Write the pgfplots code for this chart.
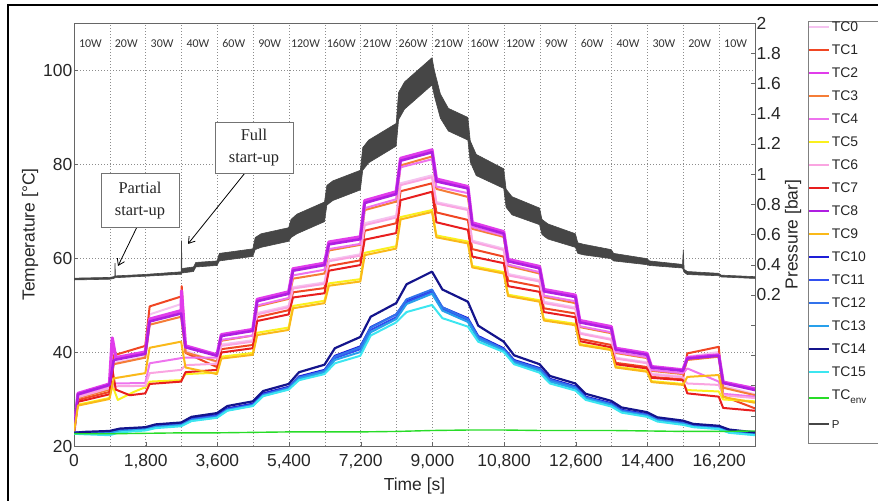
\documentclass[border=0pt]{standalone}
\usepackage{fontspec}
\setmainfont{Liberation Sans}
\newfontfamily\carlito{Carlito}
\newfontfamily\annoserif{Liberation Serif}
\usepackage{pgfplots}
\pgfplotsset{compat=1.18}
\usetikzlibrary{arrows.meta}
\definecolor{c0}{RGB}{245,195,240}
\definecolor{c1}{RGB}{240,70,35}
\definecolor{c2}{RGB}{225,60,235}
\definecolor{c3}{RGB}{245,125,55}
\definecolor{c4}{RGB}{238,115,238}
\definecolor{c5}{RGB}{250,240,30}
\definecolor{c6}{RGB}{250,165,225}
\definecolor{c7}{RGB}{232,30,30}
\definecolor{c8}{RGB}{175,30,225}
\definecolor{c9}{RGB}{250,185,25}
\definecolor{c10}{RGB}{30,30,215}
\definecolor{c11}{RGB}{50,80,240}
\definecolor{c12}{RGB}{50,115,235}
\definecolor{c13}{RGB}{40,160,235}
\definecolor{c14}{RGB}{20,20,140}
\definecolor{c15}{RGB}{60,230,240}
\definecolor{cenv}{RGB}{40,220,40}
\definecolor{cp}{RGB}{70,70,70}
\begin{document}
\begin{tikzpicture}
\useasboundingbox (0,0) rectangle (878bp,501bp);
\draw[black, line width=2bp] (8bp,-5bp) -- (8bp,496bp) -- (890bp,496bp);
\draw[black!50, line width=0.8bp] (808bp,58bp) rectangle (895bp,480bp);
\begin{axis}[
  at={(74bp,55bp)}, anchor=south west, scale only axis,
  width=681bp, height=423bp,
  xmin=0, xmax=17100, ymin=20, ymax=110,
  scaled x ticks=false, scaled y ticks=false,
  axis line style={black!60, line width=0.8bp},
  xtick={0,1800,3600,5400,7200,9000,10800,12600,14400,16200},
  xticklabels={0,{1,800},{3,600},{5,400},{7,200},{9,000},{10,800},{12,600},{14,400},{16,200}},
  minor xtick={900,2700,4500,6300,8100,9900,11700,13500,15300},
  ytick={20,40,60,80,100},
  xtick pos=bottom, ytick pos=left,
  tick align=inside, major tick length=4bp, minor tick length=0bp,
  tick style={black!60},
  xmajorgrids, xminorgrids, ymajorgrids,
  grid style={black!45, line width=0.6bp, dash pattern=on 1bp off 2bp},
  minor grid style={black!45, line width=0.6bp, dash pattern=on 1bp off 2bp},
  /pgf/number format/assume math mode=true,
  tick label style={font=\fontsize{17.5}{17.5}\selectfont, text=black!85},
  yticklabel style={inner xsep=1.5bp, inner ysep=0bp},
  xticklabel style={inner ysep=0.5bp, yshift=-8bp},
  xlabel={Time [s]}, ylabel={Temperature [°C]},
  label style={font=\fontsize{17.5}{17.5}\selectfont, text=black!85},
  xlabel style={at={(axis description cs:0.5,-0.094)}, anchor=center},
  ylabel style={at={(axis description cs:-0.0646,0.5)}, anchor=center},
  legend style={at={(axis description cs:1.0778,1.0118)}, anchor=north west,
    draw=none, fill=none, inner xsep=0bp, inner ysep=3bp,
    font=\fontsize{14}{14}\selectfont, text=black!85,
    row sep=12bp, column sep=0bp,
    nodes={text height=10bp, text depth=0bp, inner ysep=0.5bp, inner xsep=2bp}},
  legend cell align=left,
  legend image code/.code={\draw[#1] (0bp,0bp) -- (20bp,0bp);},
  legend image post style={line width=1.6bp},
  every axis plot/.append style={line width=2bp, line join=round},
]
\addplot[c0] coordinates {(0,23)(100,30.6)(890,32.5)(1000,37.7)(1790,39.0)(1900,48.0)(2690,50.2)(2800,40.3)(3590,37.8)(3700,41.6)(4490,42.5)(4600,48.3)(5390,49.8)(5500,53.8)(6290,54.8)(6400,59.6)(7190,60.8)(7300,67.4)(8090,69.0)(8200,75.9)(8990,77.6)(9100,71.9)(9890,70.5)(10000,63.7)(10790,62.0)(10900,56.6)(11690,55.3)(11800,50.7)(12590,49.5)(12700,44.1)(13490,42.8)(13600,38.8)(14390,37.8)(14500,35.4)(15290,34.8)(15400,39.0)(16190,40.0)(16300,32.8)(17100,31.0)};
\addlegendentry{TC0}
\addplot[c1] coordinates {(0,23)(100,29.8)(890,31.5)(1000,39.3)(1790,41.3)(1900,49.7)(2690,51.8)(2705,54.0)(2800,39.8)(3590,36.8)(3700,40.6)(4490,41.5)(4600,47.4)(5390,48.9)(5500,52.7)(6290,53.6)(6400,58.3)(7190,59.5)(7300,65.8)(8090,67.4)(8200,74.2)(8990,75.9)(9100,69.7)(9890,68.1)(10000,61.9)(10790,60.3)(10900,55.2)(11690,53.9)(11800,49.3)(12590,48.2)(12700,42.8)(13490,41.5)(13600,37.7)(14390,36.8)(14500,34.7)(15290,34.2)(15400,39.7)(16190,41.1)(16300,30.6)(17100,28.0)};
\addlegendentry{TC1}
\addplot[c2, line width=3.2bp] coordinates {(0,23)(100,31.2)(890,33.2)(960,43.0)(1050,38.8)(1790,40.0)(1900,47.0)(2690,48.8)(2700,53.0)(2800,41.3)(3590,39.4)(3700,43.7)(4490,44.8)(4600,51.2)(5390,52.8)(5500,57.7)(6290,58.9)(6400,63.4)(7190,64.5)(7300,72.2)(8090,74.1)(8200,81.2)(8990,83.0)(9100,76.8)(9890,75.2)(10000,67.5)(10790,65.6)(10900,59.7)(11690,58.2)(11800,53.3)(12590,52.1)(12700,46.7)(13490,45.4)(13600,40.8)(14390,39.7)(14500,36.9)(15290,36.2)(15400,38.8)(16190,39.4)(16300,33.6)(17100,32.2)};
\addlegendentry{TC2}
\addplot[c3] coordinates {(0,23)(100,30.2)(890,32.0)(1000,37.4)(1790,38.8)(1900,45.8)(2690,47.5)(2800,39.9)(3590,38.0)(3700,42.4)(4490,43.5)(4600,49.7)(5390,51.3)(5500,55.6)(6290,56.7)(6400,61.6)(7190,62.8)(7300,70.2)(8090,72.0)(8200,79.7)(8990,81.6)(9100,74.7)(9890,73.0)(10000,66.2)(10790,64.5)(10900,58.3)(11690,56.7)(11800,51.7)(12590,50.4)(12700,45.3)(13490,44.0)(13600,39.8)(14390,38.7)(14500,36.0)(15290,35.3)(15400,38.3)(16190,39.0)(16300,32.4)(17100,30.8)};
\addlegendentry{TC3}
\addplot[c4] coordinates {(0,23)(100,30.8)(890,32.8)(1000,33.3)(1790,33.4)(1900,37.6)(2690,38.7)(2800,38.8)(3590,38.8)(3700,42.6)(4490,43.5)(4600,49.9)(5390,51.5)(5500,56.3)(6290,57.5)(6400,61.9)(7190,63.0)(7300,70.6)(8090,72.5)(8200,79.3)(8990,81.0)(9100,75.2)(9890,73.8)(10000,66.6)(10790,64.8)(10900,58.6)(11690,57.0)(11800,52.0)(12590,50.8)(12700,45.5)(13490,44.2)(13600,40.0)(14390,38.9)(14500,36.2)(15290,35.5)(15400,36.5)(16190,33.7)(16300,31.1)(17100,30.5)};
\addlegendentry{TC4}
\addplot[c5] coordinates {(0,23)(100,28.8)(890,30.2)(960,33.0)(1100,29.8)(1500,31.5)(1790,32.5)(1900,33.7)(2690,34.0)(2800,35.3)(3590,35.6)(3700,39.0)(4490,39.8)(4600,44.1)(5390,45.2)(5500,49.8)(6290,50.9)(6400,54.6)(7190,55.5)(7300,61.1)(8090,62.5)(8200,68.7)(8990,70.2)(9100,64.8)(9890,63.5)(10000,58.3)(10790,57.0)(10900,52.2)(11690,51.0)(11800,47.0)(12590,46.0)(12700,41.7)(13490,40.6)(13600,36.9)(14390,36.0)(14500,33.8)(15290,33.2)(15400,31.9)(16190,31.6)(16300,29.9)(17100,29.5)};
\addlegendentry{TC5}
\addplot[c6] coordinates {(0,23)(100,30.4)(890,32.3)(1000,32.7)(1790,32.8)(1900,35.5)(2690,36.2)(2800,37.2)(3590,37.5)(3700,41.3)(4490,42.2)(4600,48.0)(5390,49.5)(5500,53.5)(6290,54.5)(6400,59.3)(7190,60.5)(7300,67.0)(8090,68.6)(8200,75.5)(8990,77.2)(9100,71.6)(9890,70.2)(10000,63.4)(10790,61.7)(10900,56.3)(11690,55.0)(11800,50.4)(12590,49.2)(12700,43.9)(13490,42.6)(13600,38.6)(14390,37.6)(14500,35.2)(15290,34.6)(15400,33.3)(16190,33.0)(16300,30.8)(17100,30.2)};
\addlegendentry{TC6}
\addplot[c7] coordinates {(0,23)(100,29.4)(890,31.0)(960,36.5)(1050,32.0)(1400,30.8)(1790,31.2)(1900,33.2)(2690,33.7)(2800,35.7)(3590,36.2)(3700,39.9)(4490,40.8)(4600,46.6)(5390,48.0)(5500,51.6)(6290,52.5)(6400,57.3)(7190,58.5)(7300,63.9)(8090,65.3)(8200,72.3)(8990,74.1)(9100,67.6)(9890,66.0)(10000,60.3)(10790,58.9)(10900,54.0)(11690,52.8)(11800,48.5)(12590,47.4)(12700,42.3)(13490,41.0)(13600,37.4)(14390,36.5)(14500,34.5)(15290,34.0)(15400,31.2)(16190,30.5)(16300,28.1)(17100,27.5)};
\addlegendentry{TC7}
\addplot[c8, line width=2.6bp] coordinates {(0,23)(100,31.0)(890,33.0)(1000,38.3)(1790,39.6)(1900,46.5)(2690,48.2)(2800,41.0)(3590,39.2)(3700,43.4)(4490,44.5)(4600,50.8)(5390,52.4)(5500,57.3)(6290,58.5)(6400,62.9)(7190,64.0)(7300,71.7)(8090,73.6)(8200,80.7)(8990,82.5)(9100,76.3)(9890,74.8)(10000,67.1)(10790,65.2)(10900,59.3)(11690,57.8)(11800,52.9)(12590,51.7)(12700,46.3)(13490,45.0)(13600,40.5)(14390,39.4)(14500,36.7)(15290,36.0)(15400,38.6)(16190,39.2)(16300,33.4)(17100,31.9)};
\addlegendentry{TC8}
\addplot[c9] coordinates {(0,23)(100,28.6)(890,30.0)(1000,34.4)(1790,35.5)(1900,40.9)(2690,42.2)(2800,36.7)(3590,35.3)(3700,38.6)(4490,39.4)(4600,43.6)(5390,44.7)(5500,49.3)(6290,50.4)(6400,54.1)(7190,55.0)(7300,60.6)(8090,62.0)(8200,68.2)(8990,69.8)(9100,64.4)(9890,63.1)(10000,58.0)(10790,56.7)(10900,51.9)(11690,50.7)(11800,46.7)(12590,45.7)(12700,41.5)(13490,40.4)(13600,36.7)(14390,35.8)(14500,33.6)(15290,33.0)(15400,34.7)(16190,35.1)(16300,30.4)(17100,29.2)};
\addlegendentry{TC9}
\addplot[c10] coordinates {(0,22.8)(250,22.9)(890,23.0)(1150,23.5)(1790,23.8)(2050,24.4)(2690,24.8)(2950,25.9)(3590,26.6)(3850,28.0)(4490,29.0)(4750,31.2)(5390,32.6)(5650,34.8)(6290,36.2)(6550,39.2)(7190,41.2)(7450,45.3)(8090,48.0)(8350,51.0)(8990,53.0)(9250,49.5)(9890,47.2)(10150,43.4)(10790,40.8)(11050,38.3)(11690,36.6)(11950,34.3)(12590,32.7)(12850,30.5)(13490,29.1)(13750,27.7)(14390,26.8)(14650,25.7)(15290,25.0)(15550,24.4)(16190,24.0)(16450,23.2)(17100,22.7)};
\addlegendentry{TC10}
\addplot[c11] coordinates {(0,22.8)(250,22.9)(890,22.9)(1150,23.4)(1790,23.7)(2050,24.2)(2690,24.6)(2950,25.7)(3590,26.4)(3850,27.8)(4490,28.8)(4750,30.9)(5390,32.3)(5650,34.5)(6290,35.9)(6550,38.7)(7190,40.6)(7450,44.7)(8090,47.4)(8350,50.6)(8990,52.8)(9250,49.2)(9890,46.8)(10150,43.0)(10790,40.5)(11050,38.0)(11690,36.3)(11950,34.0)(12590,32.5)(12850,30.3)(13490,28.9)(13750,27.5)(14390,26.6)(14650,25.6)(15290,24.9)(15550,24.3)(16190,23.9)(16450,23.1)(17100,22.6)};
\addlegendentry{TC11}
\addplot[c12] coordinates {(0,22.8)(250,22.9)(890,22.9)(1150,23.3)(1790,23.6)(2050,24.1)(2690,24.5)(2950,25.6)(3590,26.3)(3850,27.7)(4490,28.7)(4750,30.9)(5390,32.4)(5650,34.6)(6290,36.0)(6550,39.0)(7190,41.0)(7450,45.2)(8090,48.0)(8350,51.2)(8990,53.3)(9250,49.5)(9890,47.0)(10150,43.2)(10790,40.6)(11050,38.1)(11690,36.4)(11950,34.1)(12590,32.5)(12850,30.3)(13490,28.9)(13750,27.5)(14390,26.6)(14650,25.6)(15290,24.9)(15550,24.2)(16190,23.8)(16450,23.0)(17100,22.5)};
\addlegendentry{TC12}
\addplot[c13] coordinates {(0,22.8)(250,22.7)(890,22.7)(1150,23.2)(1790,23.5)(2050,24.0)(2690,24.4)(2950,25.4)(3590,26.1)(3850,27.6)(4490,28.6)(4750,30.7)(5390,32.1)(5650,34.3)(6290,35.7)(6550,38.3)(7190,40.0)(7450,44.2)(8090,47.0)(8350,50.2)(8990,52.4)(9250,48.8)(9890,46.4)(10150,42.7)(10790,40.3)(11050,37.7)(11690,36.0)(11950,33.7)(12590,32.2)(12850,30.1)(13490,28.7)(13750,27.3)(14390,26.4)(14650,25.4)(15290,24.7)(15550,24.1)(16190,23.7)(16450,22.9)(17100,22.4)};
\addlegendentry{TC13}
\addplot[c14, line width=2.2bp] coordinates {(0,22.8)(250,23.0)(890,23.2)(1150,23.7)(1790,24.0)(2050,24.6)(2690,25.0)(2950,26.2)(3590,27.0)(3850,28.5)(4490,29.5)(4750,31.7)(5390,33.2)(5650,35.7)(6290,37.3)(6550,40.8)(7190,43.2)(7450,47.5)(8090,50.4)(8350,54.4)(8990,57.1)(9250,53.3)(9890,50.7)(10150,45.6)(10790,42.2)(11050,39.3)(11690,37.4)(11950,34.9)(12590,33.3)(12850,31.1)(13490,29.6)(13750,28.2)(14390,27.2)(14650,26.1)(15290,25.4)(15550,24.7)(16190,24.3)(16450,23.5)(17100,22.9)};
\addlegendentry{TC14}
\addplot[c15] coordinates {(0,22.6)(250,22.5)(890,22.3)(1150,22.9)(1790,23.3)(2050,23.8)(2690,24.2)(2950,25.3)(3590,26.0)(3850,27.5)(4490,28.5)(4750,30.6)(5390,32.0)(5650,34.0)(6290,35.3)(6550,37.6)(7190,39.2)(7450,43.5)(8090,46.3)(8350,48.5)(8990,50.0)(9250,47.2)(9890,45.4)(10150,42.2)(10790,40.0)(11050,37.4)(11690,35.6)(11950,33.3)(12590,31.8)(12850,29.8)(13490,28.4)(13750,27.1)(14390,26.2)(14650,25.2)(15290,24.5)(15550,24.0)(16190,23.6)(16450,22.8)(17100,22.3)};
\addlegendentry{TC15}
\addplot[cenv, line width=1.4bp] coordinates {(0,22.6)(900,22.6)(1800,22.7)(2700,22.8)(3600,22.8)(4500,22.9)(5400,23.0)(6300,23.0)(7200,23.0)(8100,23.1)(9000,23.3)(9900,23.4)(10800,23.4)(11700,23.3)(12600,23.3)(13500,23.3)(14400,23.2)(15300,23.1)(16200,23.1)(17100,23.2)};
\addlegendentry[text depth=6bp]{TC\raisebox{-4bp}{\fontsize{10}{10}\selectfont env}}
\addlegendimage{cp, line width=1.6bp}
\addlegendentry[font=\fontsize{11.5}{11.5}\selectfont]{P}
% power labels
\begin{scope}[every node/.style={font=\carlito\fontsize{12}{12}\selectfont, text=black!80, xshift=-1.5bp}]
\node at (axis cs:450,105.7) {10W};
\node at (axis cs:1350,105.7) {20W};
\node at (axis cs:2250,105.7) {30W};
\node at (axis cs:3150,105.7) {40W};
\node at (axis cs:4050,105.7) {60W};
\node at (axis cs:4950,105.7) {90W};
\node at (axis cs:5850,105.7) {120W};
\node at (axis cs:6750,105.7) {160W};
\node at (axis cs:7650,105.7) {210W};
\node at (axis cs:8550,105.7) {260W};
\node at (axis cs:9450,105.7) {210W};
\node at (axis cs:10350,105.7) {160W};
\node at (axis cs:11250,105.7) {120W};
\node at (axis cs:12150,105.7) {90W};
\node at (axis cs:13050,105.7) {60W};
\node at (axis cs:13950,105.7) {40W};
\node at (axis cs:14850,105.7) {30W};
\node at (axis cs:15750,105.7) {20W};
\node at (axis cs:16650,105.7) {10W};
\end{scope}
% annotations
\draw[black, line width=0.8bp, -{Straight Barb[length=6bp,width=8bp]}] (axis cs:1582,66.6) -- (axis cs:1105,58.3);
\draw[black, line width=0.8bp, -{Straight Barb[length=6bp,width=8bp]}] (axis cs:4294,78.1) -- (axis cs:2863,63.0);
\node[draw=black!55, line width=0.8bp, fill=white, align=center, font=\annoserif\fontsize{16.5}{22}\selectfont, text=black!85, minimum width=78bp, minimum height=54bp, inner sep=2bp] at (axis cs:1657,72.3) {Partial\\start-up};
\node[draw=black!55, line width=0.8bp, fill=white, align=center, font=\annoserif\fontsize{16.5}{22}\selectfont, text=black!85, minimum width=78bp, minimum height=51bp, inner sep=2bp] at (axis cs:4520,83.5) {Full\\start-up};
\end{axis}
\begin{axis}[
  at={(74bp,55bp)}, anchor=south west, scale only axis,
  width=681bp, height=423bp,
  xmin=0, xmax=17100, ymin=-0.8, ymax=2,
  axis x line=none, axis y line*=right,
  axis line style={black!60, line width=0.8bp},
  ytick={-0.8,-0.6,-0.4,-0.2,0,0.2,0.4,0.6,0.8,1,1.2,1.4,1.6,1.8,2},
  yticklabels={,,,,,0.2,0.4,0.6,0.8,1,1.2,1.4,1.6,1.8,2},
  tick align=inside, major tick length=4bp, tick style={black!60},
  tick label style={font=\fontsize{17.5}{17.5}\selectfont, text=black!85},
  yticklabel style={inner xsep=1.5bp},
  ylabel={Pressure [bar]},
  ylabel style={font=\fontsize{17.5}{17.5}\selectfont, text=black!85, at={(axis description cs:1.0558,0.5)}, anchor=center},
]
\addplot[fill=cp, draw=cp, line width=0.6bp] coordinates {
(0,0.311)(900,0.316)(1000,0.321)(1025,0.326)(1030,0.41)(1040,0.326)(1800,0.336)(2690,0.353)(2700,0.56)(2710,0.375)(3000,0.385)(3060,0.415)(3590,0.425)(3650,0.475)(4490,0.505)(4550,0.58)(4700,0.605)(5390,0.645)(5450,0.70)(5600,0.735)(6290,0.815)(6350,0.925)(6500,0.955)(7190,1.025)(7250,1.175)(7400,1.225)(8090,1.335)(8150,1.54)(8300,1.61)(8990,1.77)(9050,1.685)(9200,1.53)(9400,1.435)(9890,1.375)(9950,1.22)(10100,1.13)(10790,1.035)(10850,0.90)(11000,0.85)(11690,0.775)(11750,0.70)(11900,0.67)(12590,0.605)(12650,0.545)(12800,0.535)(13490,0.50)(13550,0.475)(14390,0.44)(14450,0.425)(15280,0.402)(15300,0.50)(15320,0.37)(15400,0.355)(16190,0.343)(16250,0.331)(17100,0.321)
(17100,0.309)(16250,0.319)(16190,0.327)(15400,0.335)(15320,0.35)(15280,0.378)(14450,0.395)(14390,0.40)(13550,0.425)(13490,0.44)(12800,0.465)(12650,0.475)(12590,0.515)(11900,0.57)(11750,0.60)(11690,0.665)(11000,0.73)(10850,0.78)(10790,0.905)(10100,0.99)(9950,1.08)(9890,1.225)(9400,1.285)(9200,1.37)(9050,1.515)(8990,1.59)(8300,1.43)(8150,1.36)(8090,1.185)(7400,1.075)(7250,1.025)(7190,0.895)(6500,0.825)(6350,0.795)(6290,0.685)(5600,0.605)(5450,0.58)(5390,0.555)(4700,0.515)(4550,0.50)(4490,0.455)(3650,0.425)(3590,0.395)(3060,0.385)(3000,0.355)(2710,0.345)(2690,0.337)(1800,0.324)(1040,0.314)(1030,0.314)(1025,0.314)(1000,0.309)(900,0.304)(0,0.299)
} -- cycle;
\end{axis}
\end{tikzpicture}
\end{document}
